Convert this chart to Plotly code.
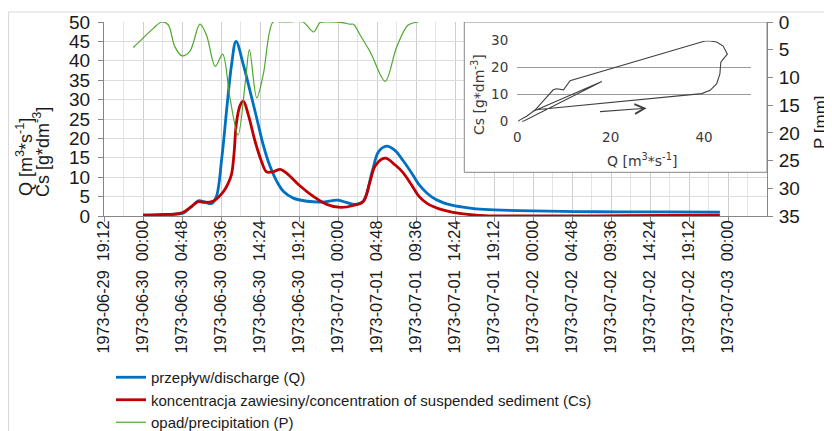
import plotly.graph_objects as go
import pandas as pd

# ---------------- data ----------------
BASE = "1973-06-30 00:00"

# discharge Q [m3/s]  (hours after 1973-06-30 00:00)
q_hours = [0, 2, 4, 5, 6, 6.8, 7.5, 8.4, 9.0, 9.7, 10.3, 10.9, 11.45, 12.35, 13.2, 14.0,
           14.8, 15.6, 16.5, 17.3, 18.5, 20.2, 22, 24, 25.0, 26, 27.1, 28.2, 29.0, 30.0,
           31.0, 32.0, 33.0, 34.0, 35.0, 36.0, 37.0, 38.0, 40.0, 42.0, 48, 56, 64, 71]
q_values = [0.2, 0.3, 0.45, 0.8, 2.5, 3.9, 3.7, 3.2, 4.8, 15, 27.5, 39, 45, 39, 32, 25.2,
            18.3, 13, 8.8, 6.3, 4.6, 3.8, 3.6, 4.1, 3.5, 3.0, 3.8, 11.4, 16.6, 18.0,
            16.9, 14.3, 11.3, 8.0, 5.8, 4.3, 3.4, 2.8, 2.1, 1.7, 1.3, 1.1, 1.05, 1.0]

# suspended sediment concentration Cs [g/dm3]
cs_hours = [0, 2, 4.8, 6, 6.8, 7.5, 8.6, 9.9, 10.5, 10.9, 11.2, 11.5, 11.95, 12.35, 12.97,
            13.8, 14.6, 15.2, 16.0, 16.9, 17.7, 19.3, 21.0, 22.6, 24.3, 25.9, 27.1, 27.95,
            28.6, 29.8, 31.0, 32.0, 33.0, 34.0, 35.0, 36.0, 37.0, 38.0, 40.0, 42.0,
            48, 56, 64, 71]
cs_values = [0.2, 0.35, 0.85, 2.5, 3.7, 3.5, 3.8, 6.3, 8.5, 10.8, 16, 24, 28.5, 29.6, 26,
             19.2, 14, 11.4, 11.4, 12.0, 11.0, 7.8, 5.0, 3.0, 2.2, 2.7, 3.7, 8.9,
             13.0, 14.9, 13.2, 11.2, 8.2, 5.0, 3.2, 2.2, 1.5, 1.0, 0.4, 0.1,
             0.0, 0.05, 0.15, 0.25]

# precipitation P [mm]
p_hours = [-1.2, 0, 1.3, 2.3, 3.1, 3.9, 4.8, 5.8, 7.0, 7.8, 8.9, 9.8, 10.7, 11.7, 12.6,
           13.1, 14.0, 14.8, 16.0, 17, 18, 19.7, 21.0, 21.8, 23, 24.5, 25.5, 25.9, 26.7,
           28.0, 29.8, 31.2, 32.6, 33.9]
p_values = [4.6, 2.9, 1.1, 0.0, 0.5, 4.4, 6.1, 5.2, 0.4, 2.3, 8.0, 5.8, 13.7, 20.4, 10.7,
            5.0, 13.7, 9.5, 0.0, 0.0, 0.0, 0.0, 1.8, 0.1, 0.0, 0.1, 0.4, 0.4, 2.3,
            5.5, 10.7, 4.6, 0.6, 0.0]

# hysteresis loop (inset): Cs vs Q
inset_q = [0.2, 0.5, 2.0, 3.8, 4.5, 39.5, 41.3, 42.7, 43.4, 43.6, 44.1, 45.0, 44.1, 42.7,
           41.0, 40.0, 11.3, 9.9, 8.4, 7.7, 3.8, 3.3, 18.1, 12.0, 6.0, 2.0, 1.2, 1.0]
inset_cs = [0.1, 0.6, 2.0, 4.3, 4.5, 10.4, 11.6, 14.0, 17.7, 22.0, 23.2, 25.0, 28.0, 29.5,
            30.0, 29.8, 15.2, 11.8, 12.2, 11.8, 4.3, 3.8, 14.9, 9.6, 4.3, 0.6, 0.1, 0.2]
arrow_from = (17.4, 3.7)
arrow_to = (27.7, 5.0)

x_tick_labels = [
    "1973-06-29 19:12", "1973-06-30 00:00", "1973-06-30 04:48", "1973-06-30 09:36",
    "1973-06-30 14:24", "1973-06-30 19:12", "1973-07-01 00:00", "1973-07-01 04:48",
    "1973-07-01 09:36", "1973-07-01 14:24", "1973-07-01 19:12", "1973-07-02 00:00",
    "1973-07-02 04:48", "1973-07-02 09:36", "1973-07-02 14:24", "1973-07-02 19:12",
    "1973-07-03 00:00"]
x_range = ["1973-06-29 19:12", "1973-07-03 04:48"]
y_range = [0, 50]

names = ["przepływ/discharge (Q)",
         "koncentracja zawiesiny/concentration of suspended sediment (Cs)",
         "opad/precipitation (P)"]

# ---------------- helpers ----------------
def to_time(hours):
    return [(pd.Timestamp(BASE) + pd.Timedelta(hours=h)).round("s").strftime("%Y-%m-%d %H:%M:%S")
            for h in hours]

OFF = 8                      # default page margin of the html body
W, H = 832 - OFF, 431 - OFF
PL, PR, PT, PB = 104, 767, 22, 216   # plot area in page pixels
ML, MT = PL - OFF, PT - OFF
MR, MB = OFF + W - PR, OFF + H - PB
PW, PH = PR - PL, PB - PT
def px(xp):
    return (xp - PL) / PW
def py(yp):
    return (PB - yp) / PH

tick_vals = [pd.Timestamp(s) for s in x_tick_labels]
minor_vals = [t + pd.Timedelta(minutes=144) for t in tick_vals]
tick_text = [s.replace(" ", "\u00a0\u00a0") for s in x_tick_labels]

# inset box corners expressed in main-axis units (computed from the axis ranges)
xr0, xr1 = pd.Timestamp(x_range[0]), pd.Timestamp(x_range[1])
box_x0 = (xr0 + (xr1 - xr0) * px(464.3)).round("s").strftime("%Y-%m-%d %H:%M:%S")
box_x1 = x_range[1]
box_y0 = y_range[0] + (y_range[1] - y_range[0]) * py(172.3)
box_y1 = y_range[1]

SANS = "Liberation Sans, Arial, sans-serif"
INSET = "DejaVu Sans, sans-serif"
AXC = "#868686"
TXT = "#1a1a1a"
ITXT = "#3a3a3a"

fig = go.Figure()
fig.add_trace(go.Scatter(x=to_time(q_hours), y=q_values, mode="lines", name=names[0],
                         line=dict(color="#0070C0", width=2.8, shape="spline", smoothing=1),
                         xaxis="x", yaxis="y"))
fig.add_trace(go.Scatter(x=to_time(cs_hours), y=cs_values, mode="lines", name=names[1],
                         line=dict(color="#C00000", width=2.8, shape="spline", smoothing=1),
                         xaxis="x", yaxis="y"))
fig.add_trace(go.Scatter(x=to_time(p_hours), y=p_values, mode="lines", name=names[2],
                         line=dict(color="#4EA72E", width=1.2, shape="spline", smoothing=0.9),
                         xaxis="x", yaxis="y3"))
fig.add_trace(go.Scatter(x=inset_q, y=inset_cs, mode="lines", showlegend=False,
                         line=dict(color="#404040", width=1.1),
                         xaxis="x2", yaxis="y2"))

fig.update_layout(
    width=W, height=H,
    margin=dict(l=ML, r=MR, t=MT, b=MB, autoexpand=False),
    paper_bgcolor="white", plot_bgcolor="white",
    font=dict(family=SANS, color=TXT),
    xaxis=dict(type="date", range=x_range, domain=[0, 1],
               tickmode="array", tickvals=tick_vals, ticktext=tick_text,
               tickangle=-90, tickfont=dict(family=SANS, size=16.3, color=TXT),
               ticks="outside", ticklen=5, tickcolor=AXC, ticklabelstandoff=-8,
               showline=True, linecolor=AXC, linewidth=1,
               showgrid=True, gridcolor="#cfcfcf", gridwidth=1,
               minor=dict(tickmode="array", tickvals=minor_vals, showgrid=True,
                          gridcolor="#e3e3e3", ticks=""),
               zeroline=False),
    yaxis=dict(range=y_range, tick0=0, dtick=5, domain=[0, 1],
               tickfont=dict(family=SANS, size=19, color=TXT),
               ticks="outside", ticklen=5, tickcolor=AXC, ticklabelstandoff=4,
               showline=True, linecolor=AXC, linewidth=1,
               showgrid=True, gridcolor="#dcdcdc", zeroline=False),
    yaxis3=dict(range=[35, 0], tick0=0, dtick=5, overlaying="y", side="right", anchor="x",
                tickfont=dict(family=SANS, size=19, color=TXT),
                ticks="outside", ticklen=5, tickcolor=AXC, ticklabelstandoff=2,
                showline=True, linecolor=AXC, linewidth=1,
                showgrid=False, zeroline=False),
    xaxis2=dict(domain=[px(517.3), px(750.7)], anchor="y2", range=[0, 50],
                tickvals=[0, 20, 40], showgrid=False, zeroline=False, showline=False,
                ticks="", ticklabelstandoff=6,
                tickfont=dict(family=INSET, size=13.5, color=ITXT)),
    yaxis2=dict(domain=[py(121.7), py(40.7)], anchor="x2", range=[0, 30],
                tickvals=[0, 10, 20, 30], showgrid=True, gridcolor="#9a9a9a",
                zeroline=False, showline=False, ticks="", ticklabelstandoff=8,
                tickfont=dict(family=INSET, size=13.5, color=ITXT)),
    legend=dict(x=px(111), y=py(361), xanchor="left", yanchor="top",
                font=dict(family=SANS, size=15, color=TXT),
                bgcolor="rgba(0,0,0,0)", tracegroupgap=0, itemwidth=30),
    showlegend=True,
)

# inset box (above main gridlines, below inset)
fig.add_shape(type="rect", xref="x", yref="y",
              x0=box_x0, x1=box_x1, y0=box_y0, y1=box_y1,
              line=dict(color=AXC, width=1), fillcolor="white", layer="between")
# outer chart border
fig.add_shape(type="rect", xref="paper", yref="paper",
              x0=px(8.5), x1=px(830), y0=py(445), y1=py(12),
              line=dict(color="#d9d9d9", width=1), layer="below")

ann = [
    dict(text="Q [m<sup>3</sup>*s<sup>-1</sup>]", x=px(24), y=py(157), textangle=-90,
         font=dict(size=18)),
    dict(text="Cs [g*dm<sup>-3</sup>]", x=px(41), y=py(152), textangle=-90,
         font=dict(size=18)),
    dict(text="P [mm]", x=px(821), y=py(122), textangle=-90, font=dict(size=17)),
    dict(text="Cs [g*dm<sup>-3</sup>]", x=px(478), y=py(95), textangle=-90,
         font=dict(family=INSET, size=14, color=ITXT)),
    dict(text="Q [m<sup>3</sup>*s<sup>-1</sup>]", x=px(641.7), y=py(160),
         font=dict(family=INSET, size=14, color=ITXT)),
]
for a in ann:
    fig.add_annotation(xref="paper", yref="paper", showarrow=False,
                       xanchor="center", yanchor="middle", **a)

fig.add_annotation(xref="x2", yref="y2", axref="x2", ayref="y2",
                   x=arrow_to[0], y=arrow_to[1], ax=arrow_from[0], ay=arrow_from[1],
                   text="", showarrow=True, arrowhead=5, arrowsize=1.6, arrowwidth=1.2,
                   arrowcolor="#404040")

fig.write_html("out.html")
